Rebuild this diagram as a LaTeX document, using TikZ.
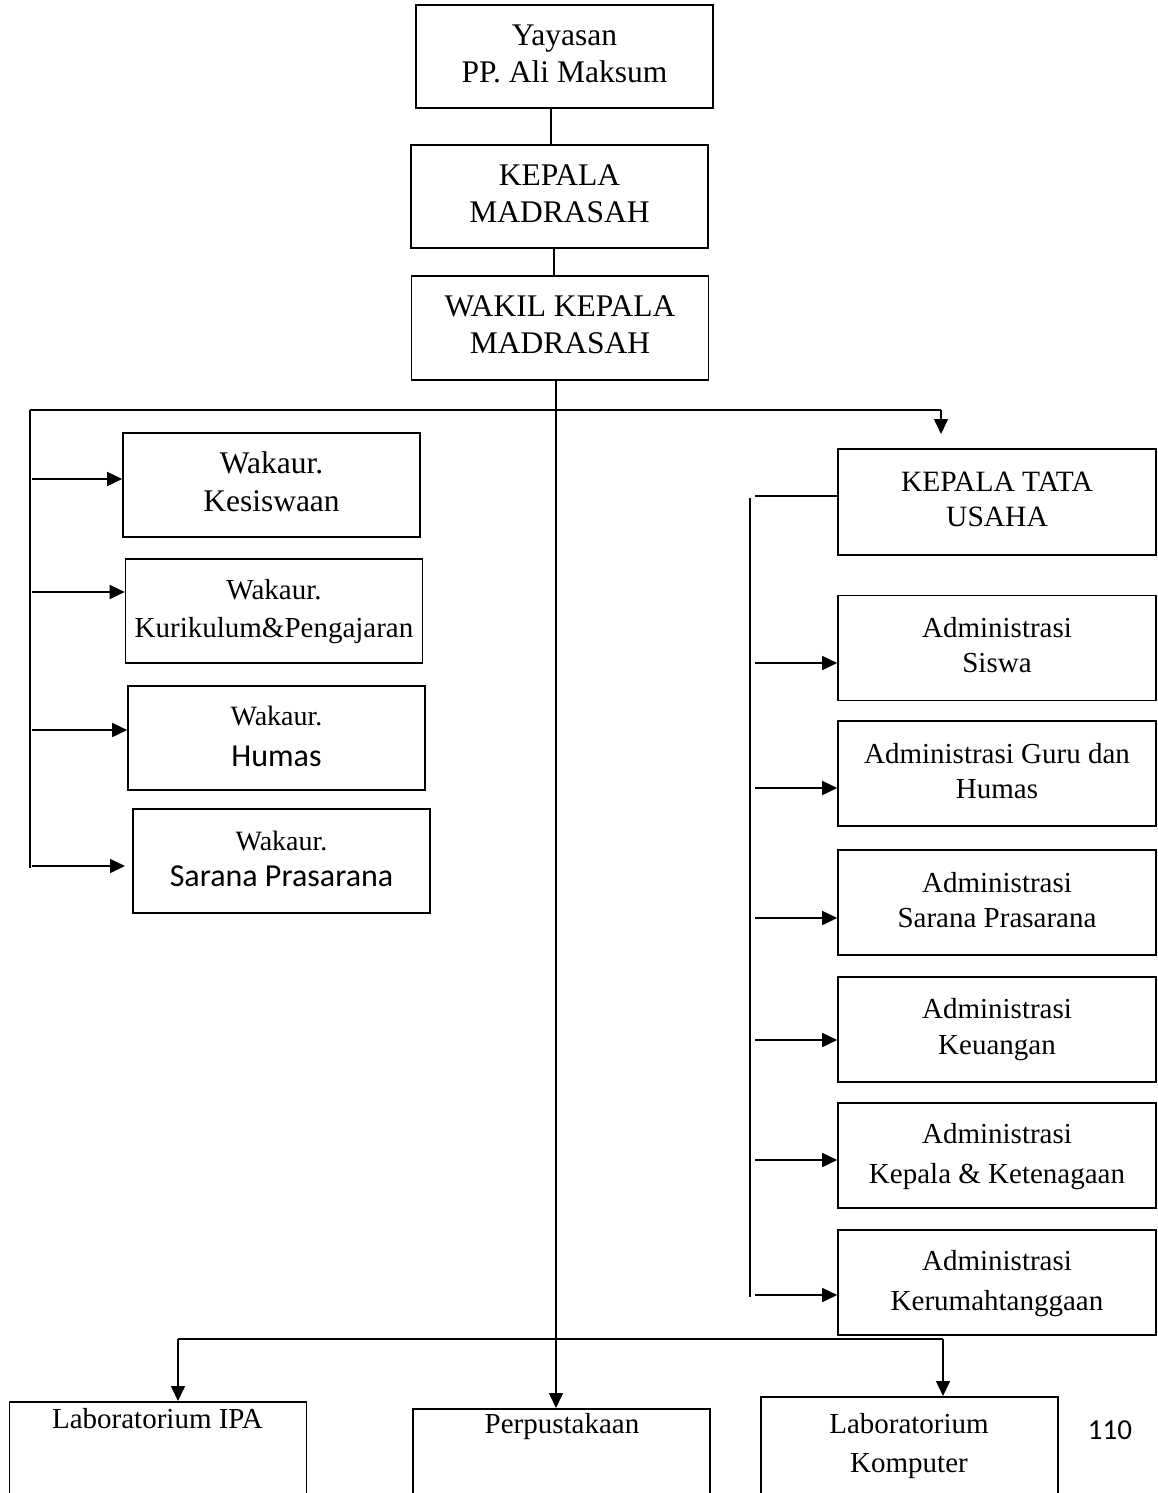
\documentclass[tikz,border=0pt]{standalone}
\usepackage{fontspec}
\setmainfont{Liberation Serif}
\newfontfamily\calfont{Carlito}
\usetikzlibrary{arrows.meta}
\newcommand{\tx}[2]{\raisebox{#1}{\begin{tabular}{@{}c@{}}#2\end{tabular}}}
\begin{document}
\begin{tikzpicture}[x=1pt,y=-1pt,line width=1.6pt,
  box/.style={draw,rectangle,inner sep=0pt,align=center,minimum width=297pt,minimum height=104pt,font=\fontsize{29}{37}\selectfont},
  bigf/.style={font=\fontsize{31.5}{37}\selectfont},
  rbox/.style={box,minimum width=318pt,minimum height=105pt,font=\fontsize{29}{35}\selectfont},
  lbox/.style={draw,rectangle,inner sep=0pt,minimum width=297pt,minimum height=200pt,anchor=north},
  lbl/.style={inner sep=0pt,align=center,font=\fontsize{29}{39}\selectfont},
  arr/.style={-{Triangle[length=15pt,width=14pt]}}]
\useasboundingbox (0,0) rectangle (1157,1493);
\clip (0,0) rectangle (1157,1493);
% top chain
\node[box,bigf,minimum height=103pt] (yay) at (564.5,56.5) {\tx{3pt}{Yayasan\\PP. Ali Maksum}};
\node[box,bigf,minimum height=103pt] (km) at (559.5,196.5) {\tx{2.5pt}{KEPALA\\MADRASAH}};
\node[box,bigf] (wkm) at (560,328) {\tx{3pt}{WAKIL KEPALA\\MADRASAH}};
% left column
\node[box,bigf,font=\fontsize{31.5}{38}\selectfont] (kes) at (271.5,485) {\tx{0pt}{Wakaur.\\Kesiswaan}};
\node[box,font=\fontsize{29}{38}\selectfont] (kur) at (274,611) {\tx{1pt}{Wakaur.\\Kurikulum\&Pengajaran}};
\node[box,font=\fontsize{28}{41}\selectfont] (hum) at (276.5,738) {\tx{2pt}{Wakaur.\\{\calfont\fontsize{32}{41}\selectfont Humas}}};
\node[box,font=\fontsize{28}{36}\selectfont] (sar) at (281.5,861) {\tx{5pt}{Wakaur.\\{\calfont\fontsize{32}{36}\selectfont Sarana Prasarana}}};
% right column
\node[rbox,minimum height=106pt,font=\fontsize{29.5}{35}\selectfont] (ktu) at (997,502) {\tx{5pt}{KEPALA TATA\\USAHA}};
\node[rbox] (as) at (997,648) {\tx{7pt}{Administrasi\\Siswa}};
\node[rbox] (ag) at (997,773.5) {\tx{6.5pt}{Administrasi Guru dan\\Humas}};
\node[rbox] (asp) at (997,902.5) {\tx{7pt}{Administrasi\\Sarana Prasarana}};
\node[rbox,font=\fontsize{29}{36}\selectfont] (ak) at (997,1029.5) {\tx{4.5pt}{Administrasi\\Keuangan}};
\node[rbox,font=\fontsize{29}{40}\selectfont] (akk) at (997,1155.5) {\tx{1pt}{Administrasi\\Kepala \& Ketenagaan}};
\node[rbox,font=\fontsize{29}{40}\selectfont] (ar) at (997,1282.5) {\tx{1pt}{Administrasi\\Kerumahtanggaan}};
% bottom row
\node[lbox] (lipa) at (158,1401) {};
\node[lbl] (tlipa) at (157.5,1419) {Laboratorium IPA};
\node[lbox] (perp) at (561.5,1408) {};
\node[lbl] (tperp) at (562,1427) {Perpustakaan};
\node[lbox] (lk) at (909.5,1396) {};
\node[lbl] (tlk) at (909,1446) {Laboratorium\\Komputer};
\node[inner sep=0pt,font=\calfont\fontsize{29}{35}\selectfont] (pg) at (1110,1430) {110};
% helper coordinates
\coordinate (x551) at (551,0);
\coordinate (x554) at (554,0);
\coordinate (x556) at (556,0);
\coordinate (busL) at (30,410);
\coordinate (busR) at (941,410);
\coordinate (ktuin) at (941,434);
\coordinate (lbot) at (30,868);
\coordinate (la1) at (32,479);
\coordinate (la2) at (32,592);
\coordinate (la3) at (32,730);
\coordinate (la4) at (32,866);
\coordinate (la4e) at (125,866);
\coordinate (rh) at (755,496);
\coordinate (rv0) at (750,498);
\coordinate (rv1) at (750,1297);
\coordinate (ra1) at (755,663);
\coordinate (ra2) at (755,788);
\coordinate (ra3) at (755,918);
\coordinate (ra4) at (755,1040);
\coordinate (ra5) at (755,1160);
\coordinate (ra6) at (755,1295);
\coordinate (bb1) at (178,1339);
\coordinate (bb2) at (943,1339);
% connectors
\draw (yay.south -| x551) -- (km.north -| x551);
\draw (km.south -| x554) -- (wkm.north -| x554);
\draw[arr] (wkm.south -| x556) -- (perp.north -| x556);
\draw (busL) -- (busR);
\draw[arr] (busR) -- (ktuin);
\draw (busL) -- (lbot);
\draw[arr] (la1) -- (kes.west |- la1);
\draw[arr] (la2) -- (kur.west |- la2);
\draw[arr] (la3) -- (hum.west |- la3);
\draw[arr] (la4) -- (la4e);
\draw (ktu.west |- rh) -- (rh);
\draw (rv0) -- (rv1);
\draw[arr] (ra1) -- (as.west |- ra1);
\draw[arr] (ra2) -- (ag.west |- ra2);
\draw[arr] (ra3) -- (asp.west |- ra3);
\draw[arr] (ra4) -- (ak.west |- ra4);
\draw[arr] (ra5) -- (akk.west |- ra5);
\draw[arr] (ra6) -- (ar.west |- ra6);
\draw (bb1) -- (bb2);
\draw[arr] (bb1) -- (lipa.north -| bb1);
\draw[arr] (bb2) -- (lk.north -| bb2);
\end{tikzpicture}
\end{document}
